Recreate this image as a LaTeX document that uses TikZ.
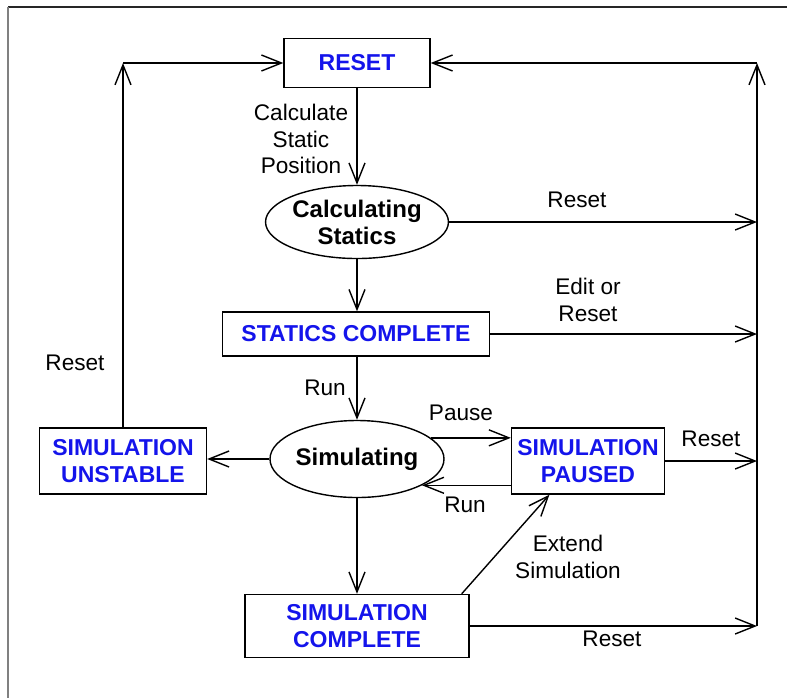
\documentclass[tikz,border=0pt]{standalone}
\usepackage{fontspec}
\setmainfont{Liberation Sans}
\usetikzlibrary{shapes.geometric,arrows.meta,calc}
\definecolor{stateblue}{RGB}{20,20,235}
\tikzset{
  statebox/.style={draw, rectangle, line width=0.7pt, align=center, inner sep=0pt,
    font=\fontsize{11.5}{13.5}\selectfont\bfseries, text=stateblue},
  stateoval/.style={draw, ellipse, line width=0.7pt, align=center, inner sep=0pt,
    font=\fontsize{12}{13.5}\selectfont\bfseries},
  lbl/.style={align=center, font=\fontsize{11.3}{13.3}\selectfont},
  arr/.style={line width=0.7pt, -{Straight Barb[length=10pt,width=8pt]}},
}
\begin{document}
\begin{tikzpicture}[x=0.5pt,y=-0.5pt]
\useasboundingbox (0,0) rectangle (787,698);
% frame
\draw[line width=1pt, black!85] (8,7) -- (787,7);
\draw[line width=0.6pt, black!50] (8,7) -- (8,698);
% states
\node[statebox, minimum width=73pt, minimum height=24.5pt] (reset) at (357,63) {RESET};
\node[stateoval, minimum width=86pt, minimum height=36.5pt] (calcst) at (357,222) {Calculating\\Statics};
\node[statebox, minimum width=133.5pt, minimum height=22pt] (statcomp) at (356,334) {STATICS COMPLETE};
\node[stateoval, minimum width=87pt, minimum height=38.5pt] (sim) at (357,459) {Simulating};
\node[statebox, minimum width=76.5pt, minimum height=33pt] (paused) at (588,461) {SIMULATION\\PAUSED};
\node[statebox, minimum width=83.5pt, minimum height=33pt] (unstable) at (123,461) {SIMULATION\\UNSTABLE};
\node[statebox, minimum width=112pt, minimum height=31.5pt] (simcomp) at (357,626) {SIMULATION\\COMPLETE};
% corners of the reset loops
\coordinate (rtop) at (757,63);
\coordinate (ltop) at (unstable.north |- reset.west);
% connectors
\draw[arr] (ltop) -- (reset.west);
\draw[arr] (rtop) -- (reset.east);
\draw[arr] (reset.south) -- (calcst.north);
\draw[arr] (calcst.east) -- (calcst.east -| rtop);
\draw[arr] (calcst.south) -- (calcst.south |- statcomp.north);
\draw[arr] (statcomp.east) -- (statcomp.east -| rtop);
\draw[arr] (sim.north |- statcomp.south) -- (sim.north);
\draw[arr] (sim.16) -- (sim.16 -| paused.west);
\draw[arr] (paused.west |- sim.-22) -- (sim.-22);
\draw[arr] (paused.east) -- (paused.east -| rtop);
\draw[arr] (sim.west) -- (sim.west -| unstable.east);
\draw[arr] (unstable.north) -- (ltop);
\draw[arr] (sim.south) -- (simcomp.north);
\draw[arr] ($(simcomp.north east)+(-8,0)$) -- ($(paused.south west)!0.25!(paused.south east)$);
\draw[arr] (simcomp.east) -- (simcomp.east -| rtop);
\draw[arr] (simcomp.east -| rtop) -- (rtop);
% labels
\node[lbl] (lcalc) at (301,139) {Calculate\\Static\\Position};
\node[lbl] (lreset1) at (577,200) {Reset};
\node[lbl] (ledit) at (588,300) {Edit or\\Reset};
\node[lbl] (lrun1) at (325,388) {Run};
\node[lbl] (lpause) at (461,413) {Pause};
\node[lbl] (lrun2) at (465,505) {Run};
\node[lbl] (lreset2) at (711,439) {Reset};
\node[lbl] (lreset3) at (75,363) {Reset};
\node[lbl] (lextend) at (568,557) {Extend\\Simulation};
\node[lbl] (lreset4) at (612,639) {Reset};
\end{tikzpicture}
\end{document}
